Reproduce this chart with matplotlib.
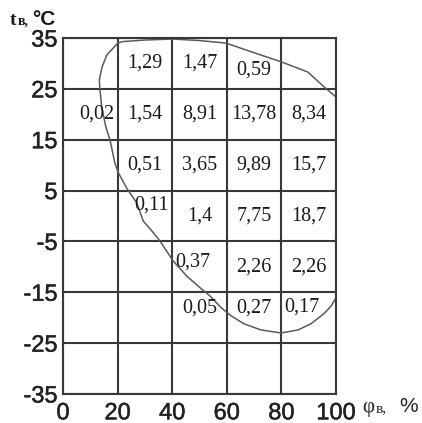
import matplotlib
matplotlib.use("Agg")
import matplotlib.pyplot as plt
from matplotlib.transforms import offset_copy
import matplotlib.patheffects as pe

# ---- data ----
phi_ticks = [0, 20, 40, 60, 80, 100]
t_ticks = [-35, -25, -15, -5, 5, 15, 25, 35]

# cell values per temperature band (columns: 0-20, 20-40, 40-60, 60-80, 80-100 %)
row_25_35 = [None, 1.29, 1.47, 0.59, None]
row_15_25 = [0.02, 1.54, 8.91, 13.78, 8.34]
row_5_15 = [None, 0.51, 3.65, 9.89, 15.7]
row_m5_5 = [None, 0.11, 1.4, 7.75, 18.7]
row_m15_m5 = [None, None, 0.37, 2.26, 2.26]
row_m25_m15 = [None, None, 0.05, 0.27, 0.17]

# boundary curve (phi %, t °C)
boundary_phi = [20.1, 16.1, 14.3, 13.3, 13.5, 14.2, 15.7, 17.2, 19.0, 20.3, 23.3, 27.0,
                29.4, 32.5, 35.5, 40.3, 45.3, 50.2, 53.8, 57.9, 61.5, 66.3, 72.5,
                79.9, 86.1, 90.8, 95.6, 98.2, 100.0, 100.0, 95.6, 89.7, 80.0, 68.9,
                59.7, 50.0, 40.0, 30.0, 22.0, 20.1]
boundary_t = [34.0, 31.7, 29.3, 26.7, 25.0, 21.4, 17.5, 15.0, 10.4, 8.5, 5.5, 2.6,
              -1.0, -2.9, -4.9, -8.8, -11.8, -14.1, -15.7, -18.0, -19.6, -21.2, -22.4,
              -23.0, -22.4, -21.2, -19.2, -17.7, -16.1, 23.4, 25.4, 28.3, 30.3, 32.3,
              34.0, 34.5, 34.8, 34.6, 34.3, 34.0]

rows = [row_25_35, row_15_25, row_5_15, row_m5_5, row_m15_m5, row_m25_m15]
row_centers = [30, 20, 10, 0, -10, -20]

# small label nudges (points) for labels shifted off-centre in the original
nudges = {(0, 3): (0, -4.5), (1, 0): (4.5, 0), (3, 1): (5, 8), (4, 2): (-4.5, 3.5),
          (5, 2): (0.5, 7), (5, 3): (0, 7), (5, 4): (-5, 8)}

fig = plt.figure(figsize=(4.22, 4.23), dpi=100)
ax = fig.add_axes([63 / 422, 29 / 423, 273 / 422, 356 / 423])
ax.set_xlim(0, 100)
ax.set_ylim(-35, 35)

grid_color = "#383838"
for x in phi_ticks:
    ax.axvline(x, color=grid_color, lw=1.5, zorder=1)
for y in t_ticks:
    ax.axhline(y, color=grid_color, lw=1.5, zorder=1)
for s in ax.spines.values():
    s.set_color(grid_color)
    s.set_linewidth(1.5)

ax.plot(boundary_phi, boundary_t, color="#5a5a5a", lw=1.1, zorder=2)

col_centers = [(phi_ticks[i] + phi_ticks[i + 1]) / 2 for i in range(5)]
for ri, (row, yc) in enumerate(zip(rows, row_centers)):
    for ci, v in enumerate(row):
        if v is None:
            continue
        dx, dy = nudges.get((ri, ci), (0, 0))
        tr = offset_copy(ax.transData, fig=fig, x=dx, y=dy, units="points")
        ax.text(col_centers[ci], yc, f"{v:g}".replace(".", ","), transform=tr,
                ha="center", va="center", fontsize=14.5,
                family="Liberation Serif", color="#1a1a1a", zorder=3)

heavy = [pe.withStroke(linewidth=0.35, foreground="#222222")]
ax.set_xticks(phi_ticks)
ax.set_yticks(t_ticks)
ax.set_xticklabels([str(v) for v in phi_ticks], fontsize=17, family="Liberation Sans")
ax.set_yticklabels([str(v) for v in t_ticks], fontsize=17, family="Liberation Sans")
ax.tick_params(length=0, pad=4, colors="#222222")
ax.tick_params(axis="x", pad=6)
for lab in ax.get_xticklabels() + ax.get_yticklabels():
    lab.set_path_effects(heavy)
# top label sits slightly lower in the original
top_lab = ax.get_yticklabels()[-1]
top_lab.set_transform(top_lab.get_transform() + offset_copy(fig.dpi_scale_trans, fig=fig, x=0, y=-4, units="points") - fig.dpi_scale_trans)

# axis captions
fig.text(10 / 422, 1 - 25 / 423, "t", fontsize=14, family="Liberation Serif",
         weight="bold", ha="left", va="baseline", color="#1a1a1a")
fig.text(18 / 422, 1 - 25 / 423, "в,", fontsize=10, family="Liberation Serif", weight="bold",
         ha="left", va="baseline", color="#1a1a1a")
fig.text(32 / 422, 1 - 25 / 423, "°C", fontsize=15, family="Liberation Sans",
         weight="bold", ha="left", va="baseline", color="#1a1a1a")

fig.text(362 / 422, 1 - 412 / 423, "φ", fontsize=15, family="Liberation Serif",
         ha="left", va="baseline", color="#222222")
fig.text(376 / 422, 1 - 412 / 423, "в,", fontsize=11, family="Liberation Serif",
         ha="left", va="baseline", color="#222222")
fig.text(399 / 422, 1 - 412 / 423, "%", fontsize=15, family="Liberation Sans",
         ha="left", va="baseline", color="#222222")

fig.savefig("out.png", dpi=100)
